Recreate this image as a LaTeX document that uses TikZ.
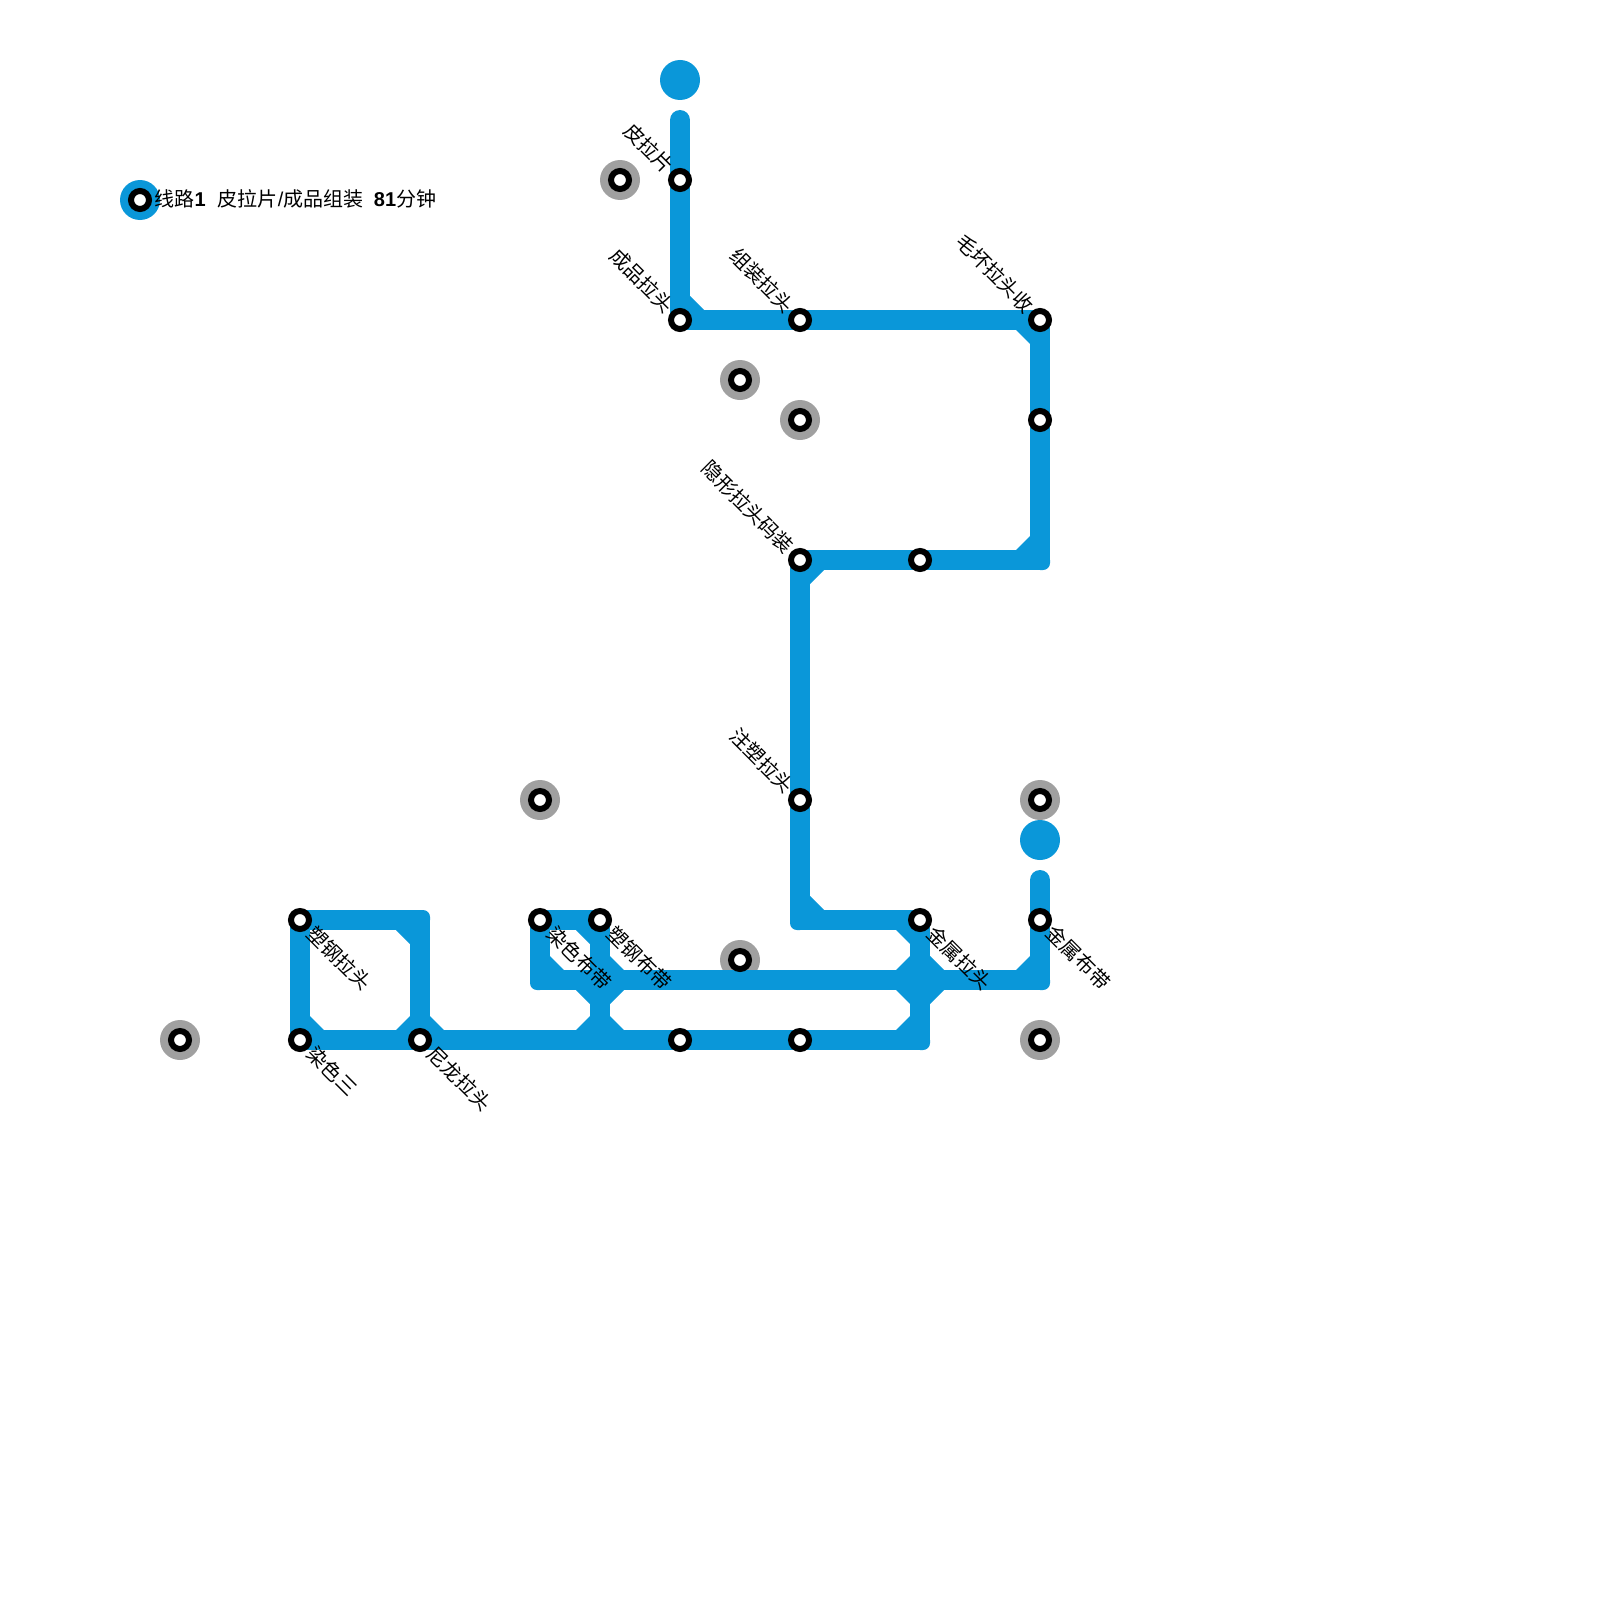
\documentclass[tikz,border=0pt]{standalone}
\usepackage{fontspec}
\setmainfont{Liberation Sans}
\newfontfamily\cjk{Noto Sans CJK SC}
\definecolor{lineblue}{HTML}{0A97D9}
\definecolor{halogray}{HTML}{A0A0A0}
\tikzset{
  halo/.style={circle,fill=halogray,minimum size=40pt,inner sep=0pt,outer sep=0pt},
  terminus/.style={circle,fill=lineblue,minimum size=40pt,inner sep=0pt,outer sep=0pt},
  stop/.style={circle,draw=black,line width=6pt,fill=white,minimum size=18pt,inner sep=0pt,outer sep=0pt},
  route/.style={draw=lineblue,line width=20pt,line cap=round,line join=round},
  lbl/.style={font=\cjk\fontsize{20pt}{20pt}\selectfont,inner sep=0pt,rotate=-45,text=black},
  lblL/.style={lbl,anchor=east},
  lblR/.style={lbl,anchor=west},
  legendtext/.style={font=\fontsize{20pt}{24pt}\selectfont,inner sep=0pt,anchor=west,text=black}
}
% #1 inner corner x, #2 y, #3 sx, #4 sy : chamfer triangle
\newcommand{\chamf}[4]{\fill[lineblue] (#1,#2) -- ++(#3*14,0) -- (#1,#2+#4*14) -- cycle;}
% #1 path corner x, #2 y, #3 sx, #4 sy: outer corner with radius 7
\newcommand{\outcorner}[4]{\fill[lineblue] (#1,#2) -- (#1+#3*10,#2) -- (#1+#3*10,#2+#4*3)
  .. controls (#1+#3*10,#2+#4*6.87) and (#1+#3*6.87,#2+#4*10) .. (#1+#3*3,#2+#4*10)
  -- (#1,#2+#4*10) -- cycle;}
\begin{document}
\begin{tikzpicture}[x=1pt,y=-1pt]
\useasboundingbox (0,0) rectangle (1600,1600);
% halos
\node[halo] (h1) at (620,180) {};
\node[halo] (h2) at (740,380) {};
\node[halo] (h3) at (800,420) {};
\node[halo] (h4) at (540,800) {};
\node[halo] (h5) at (1040,800) {};
\node[halo] (h6) at (740,960) {};
\node[halo] (h7) at (180,1040) {};
\node[halo] (h8) at (1040,1040) {};
% termini
\node[terminus] (t1) at (680,80) {};
\node[terminus] (t2) at (1040,840) {};
\node[terminus] (t3) at (140,200) {};
% line anchors
\coordinate (a0) at (680,120);
\coordinate (a1) at (680,320);
\coordinate (a2) at (1040,320);
\coordinate (a3) at (1040,560);
\coordinate (a4) at (800,560);
\coordinate (a5) at (800,920);
\coordinate (a6) at (920,920);
\coordinate (a7) at (920,1040);
\coordinate (a8) at (300,1040);
\coordinate (a9) at (300,920);
\coordinate (a10) at (420,920);
\coordinate (a11) at (420,1040);
\coordinate (b0) at (1040,880);
\coordinate (b1) at (1040,980);
\coordinate (b2) at (540,980);
\coordinate (b3) at (540,920);
\coordinate (b4) at (600,920);
\coordinate (b5) at (600,1040);
\draw[route] (a0)--(a1)--(a2)--(a3)--(a4)--(a5)--(a6)--(a7)--(a8)--(a9)--(a10)--(a11);
\draw[route] (b0)--(b1)--(b2)--(b3)--(b4)--(b5);
% rounded outer corners
\outcorner{1040}{560}{1}{1}
\outcorner{800}{920}{-1}{1}
\outcorner{920}{1040}{1}{1}
\outcorner{420}{920}{1}{-1}
\outcorner{1040}{980}{1}{1}
\outcorner{540}{980}{-1}{1}
% chamfers on inner corners
\chamf{690}{310}{1}{-1}
\chamf{1030}{330}{-1}{1}
\chamf{1030}{550}{-1}{-1}
\chamf{810}{570}{1}{1}
\chamf{810}{910}{1}{-1}
\chamf{910}{930}{-1}{1}
\chamf{910}{970}{-1}{-1}
\chamf{930}{970}{1}{-1}
\chamf{910}{990}{-1}{1}
\chamf{930}{990}{1}{1}
\chamf{910}{1030}{-1}{-1}
\chamf{1030}{970}{-1}{-1}
\chamf{590}{930}{-1}{1}
\chamf{550}{970}{1}{-1}
\chamf{610}{970}{1}{-1}
\chamf{590}{990}{-1}{1}
\chamf{610}{990}{1}{1}
\chamf{590}{1030}{-1}{-1}
\chamf{610}{1030}{1}{-1}
\chamf{410}{930}{-1}{1}
\chamf{410}{1030}{-1}{-1}
\chamf{430}{1030}{1}{-1}
\chamf{310}{1030}{1}{-1}
% stops
\node[stop] (s0) at (140,200) {};
\node[stop] (s1) at (620,180) {};
\node[stop] (s2) at (680,180) {};
\node[stop] (s3) at (680,320) {};
\node[stop] (s4) at (800,320) {};
\node[stop] (s5) at (1040,320) {};
\node[stop] (s6) at (740,380) {};
\node[stop] (s7) at (800,420) {};
\node[stop] (s8) at (1040,420) {};
\node[stop] (s9) at (800,560) {};
\node[stop] (s10) at (920,560) {};
\node[stop] (s11) at (540,800) {};
\node[stop] (s12) at (800,800) {};
\node[stop] (s13) at (1040,800) {};
\node[stop] (s14) at (300,920) {};
\node[stop] (s15) at (540,920) {};
\node[stop] (s16) at (600,920) {};
\node[stop] (s17) at (920,920) {};
\node[stop] (s18) at (1040,920) {};
\node[stop] (s19) at (740,960) {};
\node[stop] (s20) at (180,1040) {};
\node[stop] (s21) at (300,1040) {};
\node[stop] (s22) at (420,1040) {};
\node[stop] (s23) at (680,1040) {};
\node[stop] (s24) at (800,1040) {};
\node[stop] (s25) at (1040,1040) {};
% labels
\node[lblL] (l1) at (670.5,169.5) {皮拉片};
\node[lblL] (l2) at (670.5,309) {成品拉头};
\node[lblL] (l3) at (790.5,309) {组装拉头};
\node[lblL] (l4) at (1030.5,309) {毛坏拉头收};
\node[lblL] (l5) at (790.5,549.5) {隐形拉头码装};
\node[lblL] (l6) at (790.5,789) {注塑拉头};
\node[lblR] (l7) at (311,929.5) {塑钢拉头};
\node[lblR] (l8) at (311,1050) {染色三};
\node[lblR] (l9) at (431,1050) {尼龙拉头};
\node[lblR] (l10) at (551,930) {染色布带};
\node[lblR] (l11) at (611,930) {塑钢布带};
\node[lblR] (l12) at (931,929.5) {金属拉头};
\node[lblR] (l13) at (1050,929) {金属布带};
\node[legendtext] (leg) at (154.5,199) {{\cjk 线路}\textbf{1}\hspace{12pt}{\cjk 皮拉片}/{\cjk 成品组装}\hspace{10.5pt}\textbf{81}{\cjk 分钟}};
\end{tikzpicture}
\end{document}
